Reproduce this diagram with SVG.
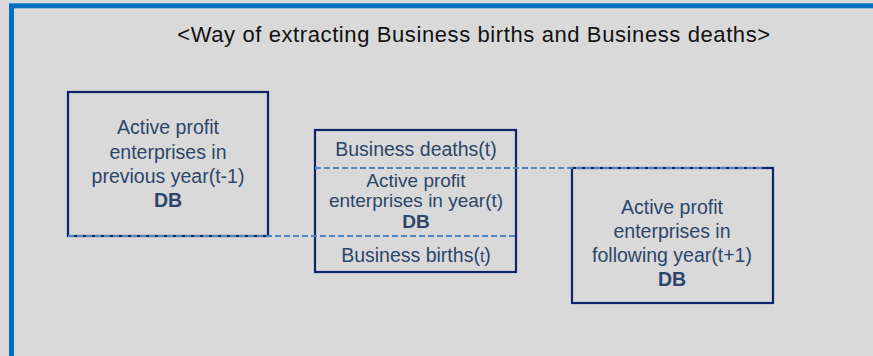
<svg xmlns="http://www.w3.org/2000/svg" width="873" height="356" viewBox="0 0 873 356">
<style>
.box{fill:none;stroke:#0b2566;stroke-width:2.2}
.t{font-family:"Liberation Sans",Arial,sans-serif;font-size:19.5px;fill:#2b466b;text-anchor:middle}
.s{font-size:19px}
.b{font-weight:bold}
.dash{stroke:#4f83c4;stroke-width:2;stroke-dasharray:6 3;fill:none}
.title{font-family:"Liberation Sans",Arial,sans-serif;font-size:22px;letter-spacing:0.6px;fill:#111;text-anchor:middle}
</style>
<rect x="0" y="0" width="873" height="356" fill="#d9d9d9"/>
<rect x="11.5" y="5.8" width="880" height="380" fill="none" stroke="#0070c0" stroke-width="5"/>
<text class="title" x="474" y="42">&lt;Way of extracting Business births and Business deaths&gt;</text>
<g id="prev">
<rect class="box" x="68" y="92" width="200" height="144"/>
<text class="t" x="168" y="134">Active profit</text>
<text class="t" x="168" y="159">enterprises in</text>
<text class="t" x="168" y="183">previous year(t-1)</text>
<text class="t b" x="168" y="207">DB</text>
</g>
<g id="curr">
<rect class="box" x="315" y="130" width="201" height="142"/>
<text class="t" x="416" y="156">Business deaths(t)</text>
<text class="t s" x="416" y="187">Active profit</text>
<text class="t s" x="416" y="207">enterprises in year(t)</text>
<text class="t s b" x="416" y="228">DB</text>
<text class="t" x="416" y="262">Business births(<tspan font-size="16">t</tspan>)</text>
</g>
<g id="next">
<rect class="box" x="572" y="168" width="201" height="135"/>
<text class="t" x="672" y="214">Active profit</text>
<text class="t" x="672" y="238">enterprises in</text>
<text class="t" x="672" y="262">following year(t+1)</text>
<text class="t b" x="672" y="286">DB</text>
</g>
<g id="connectors">
<line class="dash" x1="315" y1="168" x2="762" y2="168"/>
<line class="dash" x1="68" y1="236" x2="516" y2="236"/>
</g>
</svg>
